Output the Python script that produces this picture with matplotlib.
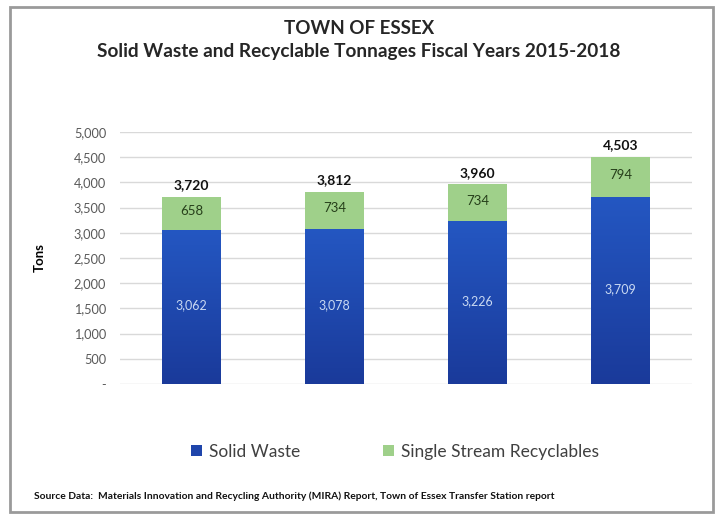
import matplotlib
matplotlib.use('Agg')
import matplotlib.pyplot as plt
import numpy as np
from matplotlib.patches import Rectangle

plt.rcParams['font.family'] = ['Lato', 'DejaVu Sans']

years = ['FY2015', 'FY2016', 'FY2017', 'FY2018']
solid_waste = [3062, 3078, 3226, 3709]
recyclables = [658, 734, 734, 794]
totals = [3720, 3812, 3960, 4503]
yticks = [0, 500, 1000, 1500, 2000, 2500, 3000, 3500, 4000, 4500, 5000]

fig = plt.figure(figsize=(7.18, 5.16), dpi=100)
ax = fig.add_axes([120 / 718, 132 / 516, 572 / 718, 252 / 516])

x = np.arange(len(years))
w = 0.41
blue = '#1f45ab'
green = '#9fd08a'

sw_bars = ax.bar(x, solid_waste, w, color=blue, zorder=2, label='Solid Waste')
rc_bars = ax.bar(x, recyclables, w, bottom=solid_waste, color=green, zorder=2,
                 label='Single Stream Recyclables')

# vertical gradient on the blue segments
grad = np.linspace(0, 1, 256).reshape(-1, 1)
cmap = matplotlib.colors.LinearSegmentedColormap.from_list('g', ['#1a3a9a', '#2457c2'])
for b in sw_bars:
    x0, y0 = b.get_x(), b.get_y()
    im = ax.imshow(grad, extent=[x0, x0 + b.get_width(), y0, y0 + b.get_height()],
                   origin='lower', cmap=cmap, aspect='auto', zorder=3)
    im.set_clip_path(b)

for i in range(len(years)):
    ax.text(x[i], solid_waste[i] / 2 + 30, f'{solid_waste[i]:,}', ha='center', va='center',
            color='#c9d9f2', fontsize=9, zorder=5)
    ax.text(x[i], solid_waste[i] + recyclables[i] / 2 + 40, f'{recyclables[i]:,}', ha='center',
            va='center', color='#263f1a', fontsize=9.5, zorder=5)
    ax.text(x[i], totals[i] + 110, f'{totals[i]:,}', ha='center', va='bottom',
            color='#111111', fontsize=10, fontweight='bold', zorder=5)

ax.set_xlim(-0.5, 3.5)
ax.set_ylim(0, 5000)
ax.set_yticks(yticks)
ax.set_yticklabels(['-' if v == 0 else f'{v:,}' for v in yticks])
ax.set_xticks([])
ax.tick_params(axis='y', length=0, pad=10, labelsize=9.2, labelcolor='#595959')
ax.grid(axis='y', color='#d9d9d9', linewidth=1, zorder=0)
for s in ax.spines.values():
    s.set_visible(False)
ax.set_ylabel('Tons', fontsize=9.5, fontweight='bold', labelpad=20)

fig.text(0.5, 1 - 28 / 516, 'TOWN OF ESSEX', ha='center', va='center',
         fontsize=13.5, fontweight='bold', color='#262626')
fig.text(0.5, 1 - 52 / 516, 'Solid Waste and Recyclable Tonnages Fiscal Years 2015-2018',
         ha='center', va='center', fontsize=13.7, fontweight='bold', color='#262626')

fig.legend(handles=[sw_bars, rc_bars], loc='center', bbox_to_anchor=(0.55, 1 - 452 / 516),
           ncol=2, frameon=False, fontsize=12.5, handlelength=0.6, handleheight=0.6,
           handletextpad=0.4, columnspacing=4.8, labelcolor='#404040')

fig.text(34 / 718, 1 - 496 / 516,
         'Source Data:  Materials Innovation and Recycling Authority (MIRA) Report, Town of Essex Transfer Station report',
         ha='left', va='center', fontsize=7.4, fontweight='bold', color='#111111')

fig.patches.append(Rectangle((10 / 718, 4 / 516), 703 / 718, 505 / 516, transform=fig.transFigure,
                             fill=False, edgecolor='#9a9a9a', linewidth=2))

fig.savefig('out.png', dpi=100)
